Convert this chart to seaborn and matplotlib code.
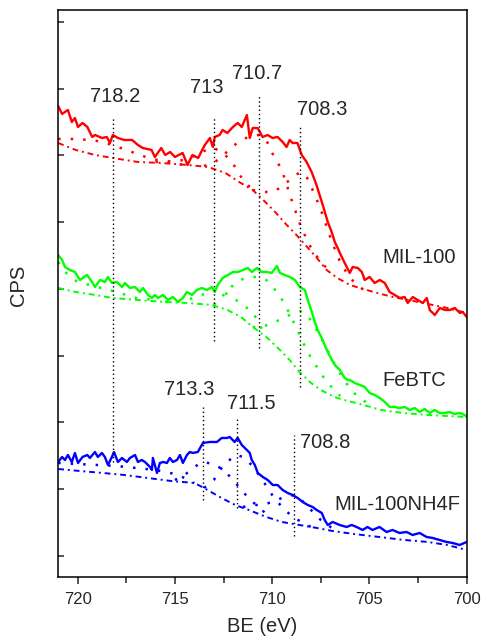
import numpy as np
import pandas as pd
import matplotlib
matplotlib.use("Agg")
import matplotlib.pyplot as plt
import seaborn as sns

# binding energy (eV) / counts (arb.)
mil_x = [721.00, 720.80, 720.65, 720.50, 720.30, 720.14, 719.98, 719.75, 719.50, 719.25,
         719.10, 718.75, 718.50, 718.34, 718.19, 717.93, 717.60, 717.20, 716.90, 716.65,
         716.20, 716.03, 715.70, 715.50, 715.24, 715.00, 714.60, 714.35, 714.10, 713.80,
         713.60, 713.46, 713.20, 713.05, 712.95, 712.70, 712.55, 712.30, 712.02, 711.77,
         711.56, 711.30, 711.15, 711.00, 710.75, 710.49, 710.23, 709.98, 709.72, 709.46,
         709.26, 709.10, 708.95, 708.70, 708.48, 708.23, 707.97, 707.72, 707.56, 707.40,
         707.14, 706.94, 706.78, 706.63, 706.52, 706.27, 706.01, 705.86, 705.60, 705.39,
         705.24, 704.99, 704.73, 704.47, 704.21, 703.96, 703.70, 703.44, 703.19, 703.03,
         702.77, 702.52, 702.26, 702.05, 701.90, 701.64, 701.38, 701.12, 700.87, 700.61,
         700.35, 700.20, 700.00]
mil_y = [471, 463, 465, 467, 455, 459, 450, 454, 450, 440,
         442, 439, 440, 434, 442, 439, 437, 437, 432, 429,
         427, 420, 429, 422, 425, 420, 424, 412, 422, 419,
         427, 432, 439, 430, 440, 442, 447, 444, 450, 454,
         450, 462, 439, 449, 449, 440, 442, 439, 440, 435,
         430, 437, 434, 434, 422, 415, 405, 392, 382, 372,
         355, 345, 335, 329, 324, 314, 304, 310, 309, 305,
         297, 300, 294, 297, 294, 285, 282, 279, 280, 274,
         280, 277, 274, 279, 267, 262, 269, 267, 267, 269,
         264, 265, 260]
mil_bg_x = [721.0, 720.1, 719.1, 718.2, 716.9, 715.7, 714.35, 713.3, 712.4, 711.7, 711.0,
            710.3, 709.8, 709.25, 708.75, 708.2, 707.7, 707.2, 706.65, 706.0, 705.5,
            704.6, 703.8, 703.0, 702.0, 701.0, 700.0]
mil_bg_y = [434, 427, 422, 419, 415, 414, 412, 410, 404, 395, 387,
            374, 364, 352, 342, 330, 319, 307, 299, 292, 289,
            284, 280, 277, 273, 269, 264]
mil_p1_x = [721.0, 720.0, 719.0, 718.2, 717.5, 716.5, 715.5, 714.5]
mil_p1_y = [438, 438, 436, 432, 427, 420, 415, 412]
mil_p2_x = [716.0, 715.0, 714.5, 714.0, 713.5, 713.0, 712.5, 712.0, 711.5, 711.0]
mil_p2_y = [415, 416, 417, 421, 426, 429, 424, 413, 397, 387]
mil_p3_x = [713.5, 713.0, 712.5, 712.0, 711.5, 711.0, 710.7, 710.3, 710.0, 709.5, 709.0,
            708.5, 708.0, 707.5, 707.0]
mil_p3_y = [411, 414, 422, 431, 438, 441, 442, 437, 424, 407, 377,
            349, 329, 315, 305]
mil_p4_x = [711.0, 710.5, 710.0, 709.5, 709.0, 708.55, 708.2, 707.8, 707.4, 707.0, 706.6,
            706.2, 705.8, 705.3]
mil_p4_y = [387, 385, 385, 390, 399, 405, 399, 382, 362, 339, 319,
            305, 295, 287]

febtc_x = [721.00, 720.80, 720.65, 720.40, 720.14, 719.88, 719.52, 719.26, 719.11, 718.85,
           718.60, 718.44, 718.24, 717.98, 717.72, 717.57, 717.31, 717.05, 716.80, 716.64,
           716.38, 716.18, 716.03, 715.87, 715.61, 715.36, 715.10, 714.84, 714.59, 714.38,
           714.12, 713.87, 713.61, 713.35, 713.10, 712.95, 712.80, 712.54, 712.28, 712.02,
           711.76, 711.50, 711.25, 711.04, 710.78, 710.53, 710.27, 710.02, 709.76, 709.60,
           709.35, 709.09, 708.83, 708.58, 708.32, 708.17, 707.96, 707.81, 707.66, 707.45,
           707.30, 707.14, 706.93, 706.78, 706.52, 706.27, 706.11, 706.01, 705.75, 705.49,
           705.24, 704.99, 704.73, 704.47, 704.21, 703.96, 703.70, 703.44, 703.19, 702.93,
           702.67, 702.42, 702.16, 701.90, 701.65, 701.39, 701.13, 700.88, 700.62, 700.36,
           700.10, 700.00]
febtc_y = [322, 317, 310, 307, 305, 297, 302, 295, 290, 297,
           295, 300, 294, 295, 290, 294, 289, 290, 285, 289,
           282, 279, 282, 279, 282, 277, 280, 275, 279, 285,
           282, 287, 289, 287, 290, 285, 292, 299, 302, 305,
           305, 307, 309, 305, 309, 305, 305, 304, 311, 304,
           302, 300, 297, 290, 287, 277, 265, 255, 247, 239,
           232, 225, 217, 212, 207, 199, 197, 197, 194, 192,
           190, 184, 182, 179, 175, 170, 170, 169, 170, 167,
           169, 165, 168, 164, 167, 164, 164, 165, 163, 164,
           162, 160]
febtc_bg_x = [721.0, 720.1, 719.1, 718.2, 716.9, 715.5, 714.35, 713.1, 712.3, 711.6, 711.0,
              710.3, 709.6, 709.1, 708.6, 708.0, 707.5, 706.8, 706.3, 705.3, 704.4,
              703.3, 702.0, 701.0, 700.0]
febtc_bg_y = [289, 285, 282, 279, 277, 275, 274, 272, 267, 260, 250,
              240, 227, 217, 205, 194, 187, 180, 177, 172, 167,
              164, 162, 161, 160]
febtc_p1_x = [721.0, 720.5, 720.0, 719.0, 718.0, 717.0, 716.0]
febtc_p1_y = [315, 302, 295, 290, 285, 279, 277]
febtc_p2_x = [715.5, 715.0, 714.5, 714.0, 713.5, 713.0, 712.5, 712.0, 711.5, 711.0, 710.3]
febtc_p2_y = [275, 275, 277, 279, 283, 287, 285, 279, 272, 265, 240]
febtc_p3_x = [713.0, 712.5, 712.0, 711.5, 711.0, 710.7, 710.3, 710.0, 709.6, 709.2, 708.8,
              708.4, 708.0, 707.6, 707.2, 706.8, 706.5]
febtc_p3_y = [272, 282, 292, 298, 300, 300, 297, 291, 281, 267, 251,
              234, 219, 207, 195, 187, 181]
febtc_p4_x = [711.0, 710.5, 710.0, 709.5, 709.0, 708.55, 708.2, 707.8, 707.4, 707.0, 706.6,
              706.2, 705.8, 705.4, 705.0]
febtc_p4_y = [250, 250, 254, 258, 263, 266, 262, 250, 236, 221, 206,
              194, 184, 178, 172]

nh4f_x = [721.00, 720.80, 720.65, 720.50, 720.30, 720.14, 719.98, 719.75, 719.50, 719.37,
          719.11, 718.96, 718.75, 718.60, 718.44, 718.24, 718.13, 717.93, 717.72, 717.47,
          717.31, 717.05, 716.90, 716.70, 716.54, 716.28, 716.18, 716.13, 715.92, 715.77,
          715.61, 715.41, 715.26, 715.10, 714.89, 714.74, 714.59, 714.38, 714.23, 714.08,
          713.82, 713.56, 713.20, 712.84, 712.59, 712.33, 712.18, 711.93, 711.77, 711.56,
          711.30, 711.15, 711.05, 710.89, 710.74, 710.48, 710.23, 709.97, 709.72, 709.46,
          709.20, 708.95, 708.69, 708.43, 708.17, 707.92, 707.71, 707.45, 707.30, 707.14,
          706.89, 706.53, 706.17, 705.91, 705.66, 705.35, 705.10, 704.84, 704.48, 704.12,
          703.81, 703.45, 703.09, 702.78, 702.42, 702.06, 701.75, 701.39, 701.03, 700.72,
          700.36, 700.00]
nh4f_y = [115, 120, 117, 122, 115, 124, 114, 120, 122, 119,
          125, 120, 124, 120, 112, 120, 125, 115, 119, 115,
          119, 122, 115, 117, 115, 110, 107, 119, 104, 114,
          115, 114, 119, 115, 117, 122, 114, 122, 125, 124,
          125, 134, 135, 135, 139, 139, 140, 135, 139, 132,
          127, 124, 117, 112, 104, 100, 97, 92, 92, 87,
          84, 82, 79, 75, 72, 70, 67, 64, 57, 52,
          55, 52, 50, 52, 50, 47, 50, 47, 50, 45,
          47, 44, 45, 42, 44, 40, 39, 37, 35, 34,
          32, 35]
nh4f_bg_x = [721.0, 719.9, 718.7, 717.6, 716.4, 715.2, 714.0, 713.6, 712.6, 711.9, 711.2,
             710.3, 709.5, 708.6, 707.7, 706.9, 705.8, 704.5, 703.2, 702.0, 701.0, 700.0]
nh4f_bg_y = [108, 106, 104, 102, 99, 96, 94, 90, 79, 72, 67,
             60, 55, 52, 49, 46, 43, 40, 37, 35, 32, 27]
nh4f_p1_x = [721.0, 720.0, 719.0, 718.0, 717.0, 716.0, 715.0, 714.5, 714.0]
nh4f_p1_y = [114, 113, 112, 111, 109, 107, 103, 99, 94]
nh4f_p2_x = [715.0, 714.5, 714.0, 713.58, 713.0, 712.5, 712.0, 711.5, 711.0, 710.5, 710.2]
nh4f_p2_y = [97, 102, 110, 115, 113, 107, 97, 85, 75, 67, 59]
nh4f_p3_x = [713.5, 713.0, 712.5, 712.0, 711.83, 711.5, 711.0, 710.5, 710.0, 709.5, 709.0,
             708.5, 708.0]
nh4f_p3_y = [89, 97, 112, 120, 122, 120, 111, 97, 82, 70, 61, 55, 50]
nh4f_p4_x = [711.5, 711.0, 710.5, 710.0, 709.5, 708.89, 708.5, 708.0, 707.5, 707.0, 706.5]
nh4f_p4_y = [70, 72, 72, 75, 79, 82, 77, 67, 57, 50, 46]

# peak marker lines: position, bottom, top
peak_pos = [718.2, 713.0, 710.7, 708.55, 713.58, 711.83, 708.89]
peak_lo = [115, 236, 229, 190, 77, 69, 41]
peak_hi = [460, 460, 483, 450, 170, 160, 142]
peak_txt = ['718.2', '713', '710.7', '708.3', '713.3', '711.5', '708.8']
txt_x = [718.08, 713.36, 710.79, 707.45, 714.27, 711.09, 707.29]
txt_y = [480, 489, 503, 467, 187, 173, 134]

names = ['MIL-100', 'FeBTC', 'MIL-100NH4F']
name_x = [702.46, 702.72, 703.55]
name_y = [319, 196, 72]
colors = ['#ff0000', '#00ff00', '#0000ff']

sns.set_style("ticks")
plt.rcParams['font.family'] = ['Liberation Sans', 'DejaVu Sans']

fig = plt.figure(figsize=(4.82, 6.36), dpi=100)
ax = fig.add_axes([0.1207, 0.0928, 0.8475, 0.8915])

series = [
    (mil_x, mil_y, mil_bg_x, mil_bg_y,
     [(mil_p1_x, mil_p1_y), (mil_p2_x, mil_p2_y), (mil_p3_x, mil_p3_y), (mil_p4_x, mil_p4_y)]),
    (febtc_x, febtc_y, febtc_bg_x, febtc_bg_y,
     [(febtc_p1_x, febtc_p1_y), (febtc_p2_x, febtc_p2_y), (febtc_p3_x, febtc_p3_y), (febtc_p4_x, febtc_p4_y)]),
    (nh4f_x, nh4f_y, nh4f_bg_x, nh4f_bg_y,
     [(nh4f_p1_x, nh4f_p1_y), (nh4f_p2_x, nh4f_p2_y), (nh4f_p3_x, nh4f_p3_y), (nh4f_p4_x, nh4f_p4_y)]),
]

for i in range(len(series)):
    sx, sy, bx, by, peaks = series[i]
    c = colors[i]
    #fitted components, dotted
    for px, py in peaks:
        sns.lineplot(x=px, y=py, ax=ax, color=c, lw=1.8, linestyle=(0, (1, 4)),
                     sort=False, estimator=None)
    #background, dash-dot
    sns.lineplot(x=bx, y=by, ax=ax, color=c, lw=1.4, linestyle=(0, (3, 2, 1, 2)),
                 sort=False, estimator=None)
    #measured spectrum
    df = pd.DataFrame({'BE': sx, 'CPS': sy})
    sns.lineplot(data=df, x='BE', y='CPS', ax=ax, color=c, lw=1.7,
                 sort=False, estimator=None)

for k in range(len(peak_pos)):
    ax.plot([peak_pos[k], peak_pos[k]], [peak_lo[k], peak_hi[k]], color='black',
            lw=1.0, linestyle=(0, (1, 2)))
    ax.text(txt_x[k], txt_y[k], peak_txt[k], ha='center', va='center', fontsize=14.5)

for k in range(len(names)):
    ax.text(name_x[k], name_y[k], names[k], ha='center', va='center', fontsize=14.5)

ax.set_xlim(721, 700)
ax.set_ylim(0, 567)
ax.set_xticks([720, 715, 710, 705, 700])
ax.set_xticks([717.5, 712.5, 707.5, 702.5], minor=True)
ax.set_yticks(np.arange(21, 567, 66.75))
ax.set_yticklabels([])
ax.tick_params(axis='x', which='major', direction='out', length=5, width=1.1,
               labelsize=12, pad=6, top=False)
ax.tick_params(axis='x', which='minor', direction='out', length=4, width=1.1, top=False)
ax.tick_params(axis='y', direction='in', length=4, width=1.1, right=False)
for s in ax.spines.values():
    s.set_visible(True)
    s.set_linewidth(1.1)
    s.set_color('black')

ax.set_xlabel('BE (eV)', fontsize=14.5, labelpad=7)
ax.set_ylabel('CPS', fontsize=14.5, labelpad=15)
ax.yaxis.set_label_coords(-0.075, 0.515)

fig.savefig('out.png', dpi=100)
